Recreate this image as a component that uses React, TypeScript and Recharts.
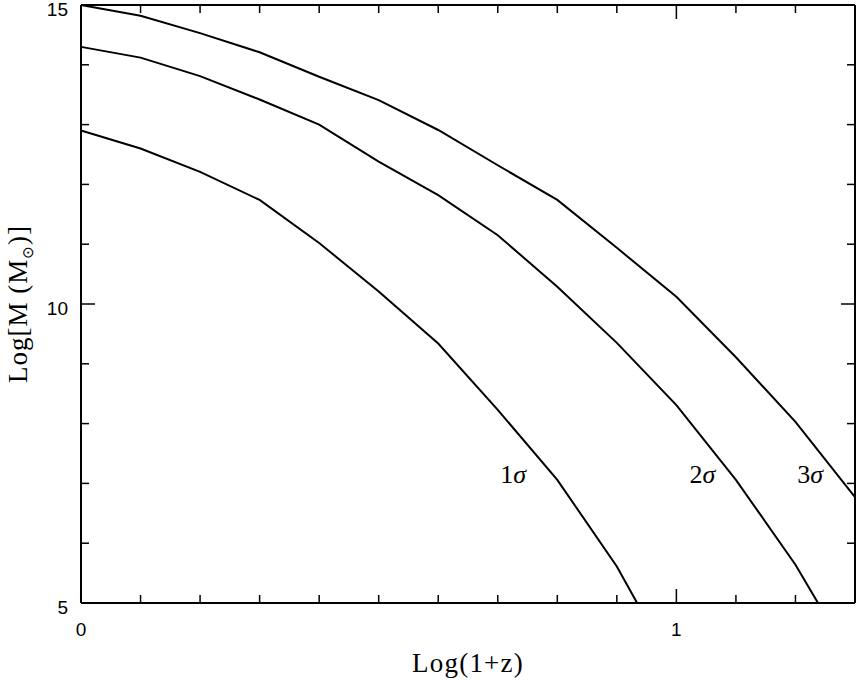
import { LineChart, Line, XAxis, YAxis, ReferenceDot } from 'recharts';

// Log(1+z) grid
const logOnePlusZ = [0, 0.1, 0.2, 0.3, 0.4, 0.5, 0.6, 0.7, 0.8, 0.9, 1.0, 1.1, 1.2, 1.3];
// Log M (solar masses) for 1, 2 and 3 sigma peaks
const sigma1 = [12.9, 12.6, 12.21, 11.74, 11.02, 10.21, 9.34, 8.23, 7.06, 5.61, 3.82, null, null, null];
const sigma2 = [14.3, 14.12, 13.81, 13.42, 13.0, 12.38, 11.82, 11.15, 10.29, 9.35, 8.31, 7.06, 5.64, 3.95];
const sigma3 = [15.0, 14.82, 14.53, 14.21, 13.8, 13.41, 12.91, 12.32, 11.74, 10.94, 10.12, 9.11, 8.03, 6.77];

const xTicks = [0, 0.1, 0.2, 0.3, 0.4, 0.5, 0.6, 0.7, 0.8, 0.9, 1, 1.1, 1.2, 1.3];
const yTicks = [5, 6, 7, 8, 9, 10, 11, 12, 13, 14, 15];
const xLabelTicks = [0, 1];
const yLabelTicks = [5, 10, 15];

const curveNames = ['1', '2', '3'];
const curveLabelX = [0.704, 1.022, 1.203];
const curveLabelY = [7.0, 7.0, 7.0];

const data = logOnePlusZ.map((x, i) => ({ x, s1: sigma1[i], s2: sigma2[i], s3: sigma3[i] }));

const INK = '#000';
const SANS = '"Liberation Sans", Arial, sans-serif';
const SERIF = '"Liberation Serif", "Times New Roman", serif';

const tickLen = (major: boolean) => (major ? 14 : 8);

function BottomTick(props: any) {
  const { x, y, payload } = props;
  const major = xLabelTicks.includes(payload.value);
  return (
    <g>
      <line x1={x} x2={x} y1={y} y2={y - tickLen(major)} stroke={INK} strokeWidth={1.5} />
      {major && (
        <text x={x} y={y + 33} textAnchor="middle" fontFamily={SANS} fontSize={19} fill={INK}>
          {payload.value}
        </text>
      )}
    </g>
  );
}

function TopTick(props: any) {
  const { x, y, payload } = props;
  const major = xLabelTicks.includes(payload.value);
  return <line x1={x} x2={x} y1={y} y2={y + tickLen(major)} stroke={INK} strokeWidth={1.5} />;
}

function LeftTick(props: any) {
  const { x, y, payload } = props;
  const major = yLabelTicks.includes(payload.value);
  return (
    <g>
      <line x1={x} x2={x + tickLen(major)} y1={y} y2={y} stroke={INK} strokeWidth={1.5} />
      {major && (
        <text x={x - 13} y={y + 10.5} textAnchor="end" fontFamily={SANS} fontSize={19} fill={INK}>
          {payload.value}
        </text>
      )}
    </g>
  );
}

function RightTick(props: any) {
  const { x, y, payload } = props;
  const major = yLabelTicks.includes(payload.value);
  return <line x1={x} x2={x - tickLen(major)} y1={y} y2={y} stroke={INK} strokeWidth={1.5} />;
}

function XTitle(props: any) {
  const vb = props.viewBox;
  return (
    <text x={vb.x + vb.width / 2} y={672} textAnchor="middle" fontFamily={SERIF} fontSize={27} letterSpacing={1.2} fill={INK}>
      Log(1+z)
    </text>
  );
}

function YTitle(props: any) {
  const vb = props.viewBox;
  const cx = 27;
  const cy = vb.y + vb.height / 2;
  return (
    <text x={cx} y={cy} textAnchor="middle" transform={`rotate(-90, ${cx}, ${cy})`} fontFamily={SERIF} fontSize={27} letterSpacing={1} fill={INK}>
      <tspan>Log[M (M</tspan>
      <tspan dy={6} fontSize={15} fontFamily='"DejaVu Sans", sans-serif'>⊙</tspan>
      <tspan dy={-6}>)]</tspan>
    </text>
  );
}

function CurveLabel(name: string) {
  return (props: any) => {
    const vb = props.viewBox;
    return (
      <text x={vb.x} y={vb.y} textAnchor="start" fontFamily={SERIF} fontSize={26} fill={INK}>
        <tspan>{name}</tspan>
        <tspan fontStyle="italic">σ</tspan>
      </text>
    );
  };
}

export default function App() {
  return (
    <div style={{ position: 'absolute', left: 0, top: 0, background: '#fff' }}>
      <LineChart width={857} height={680} data={data} margin={{ top: 0, right: 0, bottom: 0, left: 0 }}>
        <XAxis
          xAxisId="bottom"
          dataKey="x"
          type="number"
          domain={[0, 1.3]}
          ticks={xTicks}
          interval={0}
          height={77}
          tickSize={0}
          tickMargin={0}
          tickLine={false}
          axisLine={{ stroke: INK, strokeWidth: 2 }}
          tick={<BottomTick />}
          label={{ content: XTitle }}
        />
        <XAxis
          xAxisId="top"
          orientation="top"
          dataKey="x"
          type="number"
          domain={[0, 1.3]}
          ticks={xTicks}
          interval={0}
          height={5}
          tickSize={0}
          tickMargin={0}
          tickLine={false}
          axisLine={{ stroke: INK, strokeWidth: 2 }}
          tick={<TopTick />}
        />
        <YAxis
          yAxisId="left"
          type="number"
          domain={[5, 15]}
          ticks={yTicks}
          interval={0}
          width={81}
          allowDataOverflow
          tickSize={0}
          tickMargin={0}
          tickLine={false}
          axisLine={{ stroke: INK, strokeWidth: 2 }}
          tick={<LeftTick />}
          label={{ content: YTitle }}
        />
        <YAxis
          yAxisId="right"
          orientation="right"
          type="number"
          domain={[5, 15]}
          ticks={yTicks}
          interval={0}
          width={2}
          allowDataOverflow
          tickSize={0}
          tickMargin={0}
          tickLine={false}
          axisLine={{ stroke: INK, strokeWidth: 2 }}
          tick={<RightTick />}
        />
        <Line xAxisId="bottom" yAxisId="left" type="linear" dataKey="s1" stroke={INK} strokeWidth={2} dot={false} isAnimationActive={false} />
        <Line xAxisId="bottom" yAxisId="left" type="linear" dataKey="s2" stroke={INK} strokeWidth={2} dot={false} isAnimationActive={false} />
        <Line xAxisId="bottom" yAxisId="left" type="linear" dataKey="s3" stroke={INK} strokeWidth={2} dot={false} isAnimationActive={false} />
        {curveNames.map((name, i) => (
          <ReferenceDot
            key={name}
            xAxisId="bottom"
            yAxisId="left"
            x={curveLabelX[i]}
            y={curveLabelY[i]}
            r={0}
            fill="none"
            stroke="none"
            label={{ content: CurveLabel(name) }}
          />
        ))}
      </LineChart>
    </div>
  );
}
